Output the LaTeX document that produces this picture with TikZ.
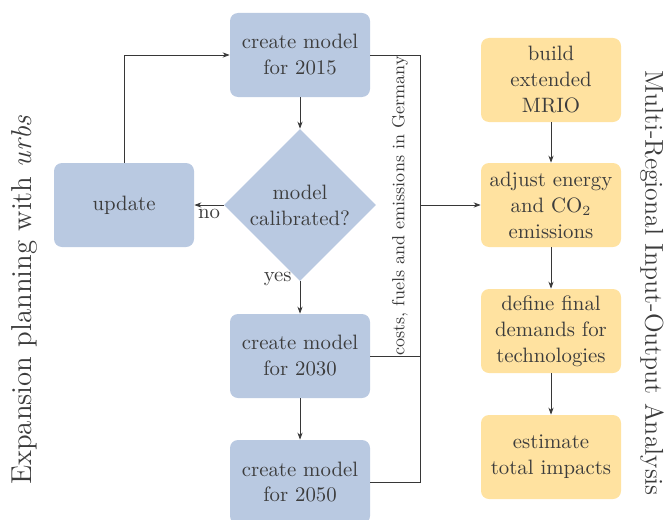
\documentclass[tikz,border=0pt]{standalone}
\usetikzlibrary{shapes.geometric,arrows.meta}
\definecolor{boxblue}{RGB}{185,201,225}
\definecolor{boxyellow}{RGB}{255,226,160}
\definecolor{txt}{RGB}{60,60,60}
\definecolor{ln}{RGB}{55,55,55}
\begin{document}
\begin{tikzpicture}[x=0.5pt,y=-0.5pt,
  bx/.style={rounded corners=4pt,minimum width=70pt,minimum height=42pt,inner sep=0pt,align=center,text=txt,font=\fontsize{10.4}{13}\selectfont},
  bbox/.style={bx,fill=boxblue},
  ybox/.style={bx,fill=boxyellow},
  dia/.style={diamond,fill=boxblue,minimum width=76pt,minimum height=76pt,inner sep=0pt,align=center,text=txt,font=\fontsize{10.4}{13}\selectfont},
  arr/.style={draw=ln,line width=0.4pt,-{Stealth[length=3.5pt,width=2.6pt]}},
  ln/.style={draw=ln,line width=0.4pt},
  lbl/.style={text=txt,font=\fontsize{10.4}{13}\selectfont,inner sep=1pt},
  side/.style={text=txt,font=\fontsize{14.4}{17}\selectfont,inner sep=0pt}]
\useasboundingbox (0,0) rectangle (667,519);
% left column
\node[bbox] (c15) at (300,55) {create model\\for 2015};
\node[dia] (cal) at (300,205) {model\\calibrated?};
\node[bbox] (upd) at (124,205) {update};
\node[bbox] (c30) at (300,356) {create model\\for 2030};
\node[bbox] (c50) at (300,482) {create model\\for 2050};
% right column
\node[ybox] (mrio) at (551,80) {build\\extended\\MRIO};
\node[ybox] (adj) at (551,205) {adjust energy\\and CO$_2$\\emissions};
\node[ybox] (fin) at (551,331) {define final\\demands for\\technologies};
\node[ybox] (est) at (551,457) {estimate\\total impacts};
% side labels
\node[side,rotate=90] (lt) at (24,300) {Expansion planning with \textit{urbs}};
\node[side,rotate=-90,font=\fontsize{12.9}{15}\selectfont] (rt) at (652,283) {Multi-Regional Input-Output Analysis};
% arrows left
\draw[arr] (c15) -- (cal);
\draw[arr] (cal.west) -- node[lbl,below,pos=0.5,yshift=-1pt] {no} (upd.east);
\draw[arr] (upd.north) |- (c15.west);
\draw[arr] (cal.south) -- node[lbl,pos=0,anchor=east,xshift=-3pt,yshift=1pt] {yes} (c30.north);
\draw[arr] (c30) -- (c50);
% collector
\coordinate (j15) at (420,55);
\coordinate (j30) at (420,356);
\coordinate (j50) at (420,482);
\coordinate (jm) at (420,205);
\draw[ln] (c15.east) -- (j15) -- (j50) -- (c50.east);
\draw[ln] (c30.east) -- (j30);
\draw[arr] (jm) -- (adj.west);
\node[text=txt,font=\fontsize{8.8}{10}\selectfont,rotate=90,inner sep=0pt] (cf) at (400,206) {costs, fuels and emissions in Germany};
% arrows right
\draw[arr] (mrio) -- (adj);
\draw[arr] (adj) -- (fin);
\draw[arr] (fin) -- (est);
\end{tikzpicture}
\end{document}
